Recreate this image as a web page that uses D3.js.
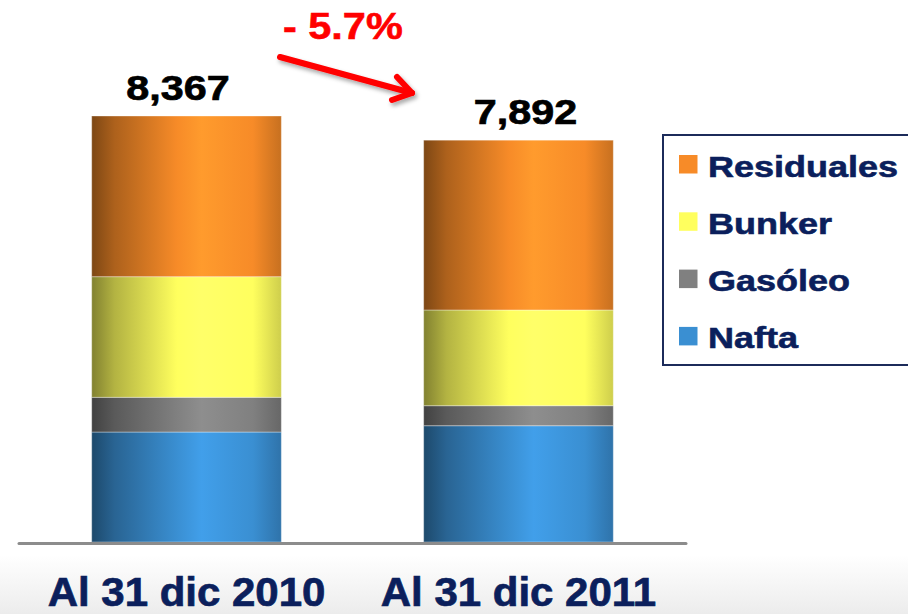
<!DOCTYPE html>
<html lang="es">
<head>
    <meta charset="UTF-8">
    <title>Residuales, Bunker, Gasóleo y Nafta</title>
    <script src="https://d3js.org/d3.v7.min.js"></script>
    <style>
        body { margin: 0; background: #fff; }
        svg { display: block; font-family: "Liberation Sans", Arial, sans-serif; }
    </style>
</head>
<body>
    <svg width="908" height="614"></svg>

    <script>
        // Data
        const categories = ["Al 31 dic 2010", "Al 31 dic 2011"];
        const series = ["Nafta", "Gasóleo", "Bunker", "Residuales"];
        const nafta = [2160, 2284];
        const gasoleo = [682, 393];
        const bunker = [2369, 1880];
        const residuales = [3156, 3335];
        const totals = ["8,367", "7,892"];
        const changeLabel = "- 5.7%";

        const colors = {
            "Nafta": "#3a8fd2",
            "Gasóleo": "#808080",
            "Bunker": "#ffff5e",
            "Residuales": "#f78b28"
        };

        const width = 908;
        const height = 614;
        const navy = "#0b1f5c";

        const svg = d3.select("svg")
            .attr("width", width)
            .attr("height", height);

        const defs = svg.append("defs");

        // soft grey fade at the bottom of the slide
        const bg = defs.append("linearGradient")
            .attr("id", "bg").attr("x1", 0).attr("y1", 0).attr("x2", 0).attr("y2", 1);
        bg.append("stop").attr("offset", 0).attr("stop-color", "#ffffff");
        bg.append("stop").attr("offset", 1).attr("stop-color", "#ececec");
        svg.append("rect")
            .attr("x", 0).attr("y", 555).attr("width", width).attr("height", height - 555)
            .attr("fill", "url(#bg)");

        // cylinder shading for each series
        series.forEach((s, i) => {
            const base = d3.color(colors[s]);
            const g = defs.append("linearGradient")
                .attr("id", "grad" + i)
                .attr("x1", 0).attr("x2", 1).attr("y1", 0).attr("y2", 0);
            [
                [0, base.darker(1.9)],
                [0.12, base.darker(1.0)],
                [0.45, base],
                [0.58, base.brighter(0.3)],
                [0.85, base],
                [1, base.darker(0.6)]
            ].forEach(([o, c]) => g.append("stop").attr("offset", o).attr("stop-color", c.formatHex()));
        });

        const shadow = defs.append("filter").attr("id", "shadow")
            .attr("x", "-20%").attr("y", "-50%").attr("width", "140%").attr("height", "200%");
        shadow.append("feDropShadow")
            .attr("dx", 2).attr("dy", 3).attr("stdDeviation", 2)
            .attr("flood-color", "#000").attr("flood-opacity", 0.35);

        const x = d3.scaleBand()
            .domain(categories)
            .range([19, 686])
            .paddingInner(0.4287)
            .paddingOuter(0.219);

        const y = d3.scaleLinear()
            .domain([0, 8367])
            .range([542, 116]);

        const table = categories.map((c, i) => ({
            category: c,
            "Nafta": nafta[i],
            "Gasóleo": gasoleo[i],
            "Bunker": bunker[i],
            "Residuales": residuales[i]
        }));

        const stacked = d3.stack().keys(series)(table);

        const layers = svg.append("g")
            .selectAll("g")
            .data(stacked)
            .join("g")
            .attr("fill", (d, i) => "url(#grad" + i + ")");

        layers.selectAll("rect")
            .data(d => d)
            .join("rect")
            .attr("x", d => x(d.data.category))
            .attr("width", x.bandwidth())
            .attr("y", d => y(d[1]))
            .attr("height", d => y(d[0]) - y(d[1]))
            .attr("stroke", "rgba(255,255,255,0.35)")
            .attr("stroke-width", 1);

        // baseline
        svg.append("line")
            .attr("x1", x.range()[0]).attr("x2", x.range()[1])
            .attr("y1", y(0) + 1.5).attr("y2", y(0) + 1.5)
            .attr("stroke", "#8c8c8c")
            .attr("stroke-width", 3)
            .attr("stroke-linecap", "round");

        // totals above bars
        const labelShift = [-8.5, 7];
        svg.append("g")
            .selectAll("text")
            .data(table)
            .join("text")
            .attr("transform", (d, i) => {
                const top = y(d3.sum(series, s => d[s]));
                return `translate(${x(d.category) + x.bandwidth() / 2 + labelShift[i]},${top - 16}) scale(1.18,1)`;
            })
            .attr("text-anchor", "middle")
            .attr("font-size", 35)
            .attr("font-weight", "bold")
            .attr("fill", "#000")
            .attr("stroke", "#000")
            .attr("stroke-width", 0.7)
            .text((d, i) => totals[i]);

        // category labels
        svg.append("g")
            .selectAll("text")
            .data(categories)
            .join("text")
            .attr("transform", d => `translate(${x(d) + x.bandwidth() / 2},606) scale(1.05,1)`)
            .attr("text-anchor", "middle")
            .attr("font-size", 40)
            .attr("font-weight", "bold")
            .attr("fill", navy)
            .attr("stroke", navy)
            .attr("stroke-width", 0.7)
            .text(d => d);

        // change annotation
        svg.append("text")
            .attr("transform", "translate(283,39) scale(1.12,1)")
            .attr("font-size", 37)
            .attr("font-weight", "bold")
            .attr("fill", "#ff0000")
            .attr("stroke", "#ff0000")
            .attr("stroke-width", 0.6)
            .text(changeLabel);

        const arrow = svg.append("g")
            .attr("filter", "url(#shadow)")
            .attr("fill", "none")
            .attr("stroke", "#ff0000")
            .attr("stroke-width", 6)
            .attr("stroke-linecap", "round")
            .attr("stroke-linejoin", "round");
        arrow.append("path").attr("d", "M280,57 L412,93");
        arrow.append("path").attr("d", "M397,77 L412,93 L392,100");

        // legend
        const legend = svg.append("g");
        legend.append("rect")
            .attr("x", 663).attr("y", 135)
            .attr("width", 270).attr("height", 230)
            .attr("fill", "#fff")
            .attr("stroke", "#1c2b5a")
            .attr("stroke-width", 2);

        const legendOrder = series.slice().reverse();
        const item = legend.selectAll("g.item")
            .data(legendOrder)
            .join("g")
            .attr("class", "item")
            .attr("transform", (d, i) => `translate(679,${155 + i * 57.3})`);

        item.append("rect")
            .attr("width", 18.5).attr("height", 18.5)
            .attr("fill", d => colors[d]);

        item.append("text")
            .attr("transform", "translate(29,21.5) scale(1.2,1)")
            .attr("font-size", 30)
            .attr("font-weight", "bold")
            .attr("fill", navy)
            .attr("stroke", navy)
            .attr("stroke-width", 0.6)
            .text(d => d);
    </script>
</body>
</html>
